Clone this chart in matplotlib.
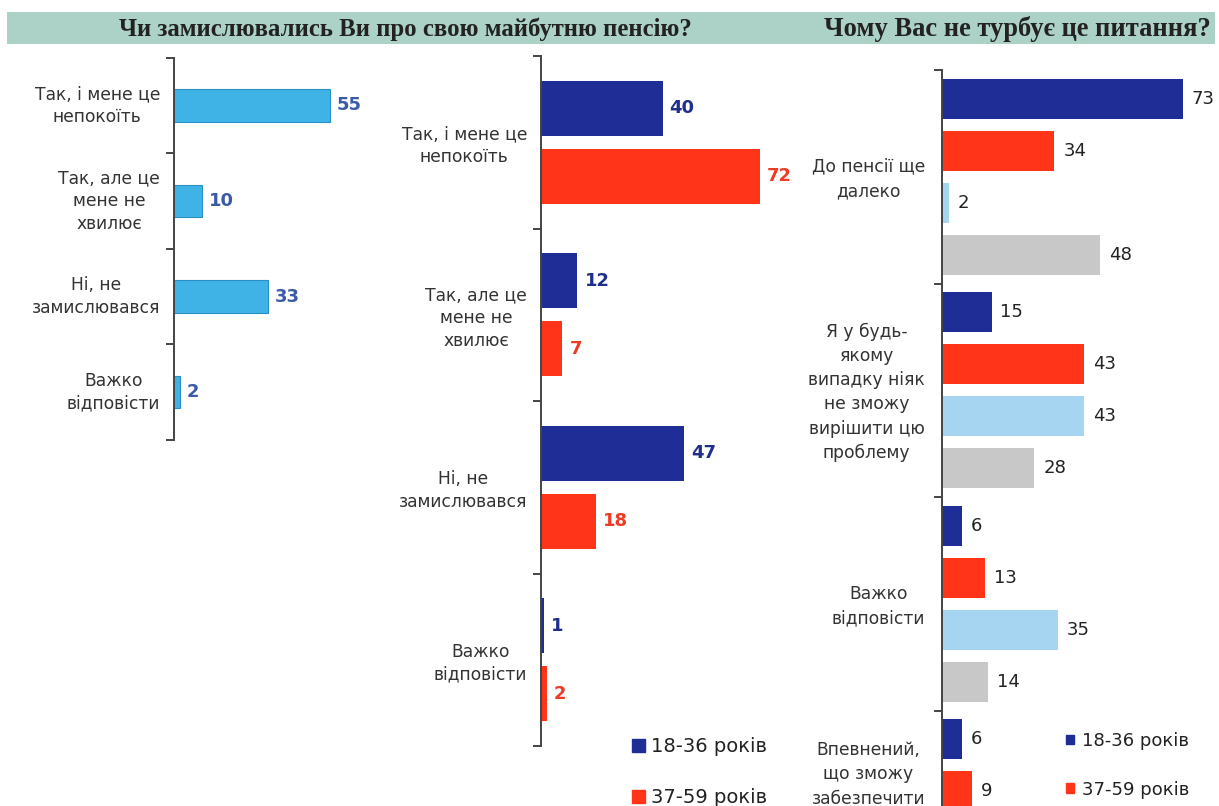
import numpy as np
import matplotlib
matplotlib.use("Agg")
import matplotlib.pyplot as plt
from matplotlib.patches import Rectangle, Patch

# ---------------- data ----------------
title_left = "Чи замислювались Ви про свою майбутню пенсію?"
title_right = "Чому Вас не турбує це питання?"

cats_left = ["Так, і мене це\nнепокоїть", "Так, але це\nмене не\nхвилює",
             "Ні, не\nзамислювався", "Важко\nвідповісти"]
vals_total = [55, 10, 33, 2]

cats_mid = ["Так, і мене це\nнепокоїть", "Так, але це\nмене не\nхвилює",
            "Ні, не\nзамислювався", "Важко\nвідповісти"]
vals_mid_young = [40, 12, 47, 1]
vals_mid_old = [72, 7, 18, 2]

cats_right = ["До пенсії ще\nдалеко",
              "Я у будь-\nякому\nвипадку ніяк\nне зможу\nвирішити цю\nпроблему",
              "Важко\nвідповісти",
              "Впевнений,\nщо зможу\nзабезпечити"]
vals_r_young = [73, 15, 6, 6]
vals_r_old = [34, 43, 13, 9]
vals_r_s3 = [2, 43, 35, np.nan]
vals_r_s4 = [48, 28, 14, np.nan]

legend_labels = ["18-36 років", "37-59 років"]

# ---------------- style ----------------
W, H = 1219, 806
fig = plt.figure(figsize=(W / 100, H / 100), dpi=100)
fig.patch.set_facecolor("white")
plt.rcParams["font.family"] = ["DejaVu Sans"]

C_LB = "#3fb3e6"
C_BLUE = "#1f2e96"
C_RED = "#ff3419"
C_LIGHT = "#a6d5f1"
C_GRAY = "#c8c8c8"
TXT = "#333333"


def ax_px(x0, ytop, w, ybot):
    return fig.add_axes([x0 / W, (H - ybot) / H, w / W, (ybot - ytop) / H])


def style_axis(ax, n, ylim):
    for s in ["top", "right", "bottom"]:
        ax.spines[s].set_visible(False)
    ax.spines["left"].set_color("#444444")
    ax.spines["left"].set_linewidth(1.4)
    ax.set_xticks([])
    ax.set_yticks(np.arange(n + 1) - 0.5)
    ax.set_yticklabels([])
    ax.tick_params(axis="y", direction="out", length=6, width=1.4, color="#444444")
    ax.set_xlim(0, 80)
    ax.set_ylim(*ylim)
    ax.patch.set_alpha(0)


def cat_labels(ax, cats, ys, dx=-14, fs=12.3, ls=1.35):
    for c, y in zip(cats, ys):
        ax.annotate(c, xy=(0, y), xytext=(dx, 0), textcoords="offset pixels",
                    ha="right", va="center", multialignment="center",
                    fontsize=fs, color=TXT, linespacing=ls,
                    annotation_clip=False)


def val_labels(ax, ys, vals, color, bold, fs=13, dx=7):
    for y, v in zip(ys, vals):
        if np.isnan(v):
            continue
        ax.annotate(f"{v:g}", xy=(v, y), xytext=(dx, 0), textcoords="offset pixels",
                    ha="left", va="center", fontsize=fs, color=color,
                    fontweight="bold" if bold else "normal",
                    annotation_clip=False)


# ---------------- header band ----------------
fig.patches.append(Rectangle((7 / W, (H - 44) / H), (1215 - 7) / W, 32 / H,
                             transform=fig.transFigure, facecolor="#acd1c6",
                             edgecolor="none", zorder=0))
fig.text(405 / W, (H - 29) / H, title_left, ha="center", va="center",
         fontsize=17.8, fontweight="bold", family="Liberation Serif", color="#222222")
fig.text(1017 / W, (H - 29) / H, title_right, ha="center", va="center",
         fontsize=19.1, fontweight="bold", family="Liberation Serif", color="#222222")

# ---------------- left panel ----------------
axL = ax_px(174, 57.5, 227, 440)
yL = np.arange(len(cats_left))
axL.barh(yL, vals_total, height=0.34, color=C_LB, edgecolor="#2a90c4", linewidth=0.8)
style_axis(axL, len(cats_left), (len(cats_left) - 0.5, -0.5))
cat_labels(axL, cats_left, yL)
val_labels(axL, yL, vals_total, "#3b5ba8", True, fs=13)

# ---------------- middle panel ----------------
axM = ax_px(541, 56, 243, 746)
yM = np.arange(len(cats_mid))
off = 0.197
axM.barh(yM - off, vals_mid_young, height=0.32, color=C_BLUE)
axM.barh(yM + off, vals_mid_old, height=0.32, color=C_RED)
style_axis(axM, len(cats_mid), (len(cats_mid) - 0.5, -0.5))
cat_labels(axM, cats_mid, yM + 0.02)
val_labels(axM, yM - off, vals_mid_young, "#1f2f8c", True, fs=13)
val_labels(axM, yM + off, vals_mid_old, "#ef3a24", True, fs=13)

legM = fig.legend(handles=[Patch(color=C_BLUE), Patch(color=C_RED)], labels=legend_labels,
                  loc="upper left", bbox_to_anchor=(632 / W, (H - 737) / H),
                  frameon=False, fontsize=14, handlelength=0.67, handleheight=0.67,
                  handletextpad=0.3, labelspacing=1.65, borderpad=0, borderaxespad=0)
for t in legM.get_texts():
    t.set_color("#222222")

# ---------------- right panel ----------------
axR = ax_px(942, 70, 264, 806)
yR = np.arange(len(cats_right))
p = 0.244
axR.barh(yR - 1.5 * p, vals_r_young, height=0.188, color=C_BLUE)
axR.barh(yR - 0.5 * p, vals_r_old, height=0.188, color=C_RED)
axR.barh(yR + 0.5 * p, vals_r_s3, height=0.188, color=C_LIGHT)
axR.barh(yR + 1.5 * p, vals_r_s4, height=0.188, color=C_GRAY)
style_axis(axR, len(cats_right), ((806 - 70) / 213.5 - 0.5, -0.5))
cat_labels(axR, cats_right[:3], yR[:3] + 0.01, dx=-17, fs=12.3, ls=1.45)
axR.annotate(cats_right[3], xy=(0, yR[3]), xytext=(-17, 43), textcoords="offset pixels",
             ha="right", va="center", multialignment="center", fontsize=12.3,
             color=TXT, linespacing=1.45, annotation_clip=False)
for offs, vals in zip([-1.5, -0.5, 0.5, 1.5], [vals_r_young, vals_r_old, vals_r_s3, vals_r_s4]):
    val_labels(axR, yR + offs * p, vals, "#222222", False, fs=13, dx=9)

legR = fig.legend(handles=[Patch(color=C_BLUE), Patch(color=C_RED)], labels=legend_labels,
                  loc="upper left", bbox_to_anchor=(1066 / W, (H - 732) / H),
                  frameon=False, fontsize=13, handlelength=0.45, handleheight=0.45,
                  handletextpad=0.45, labelspacing=1.7, borderpad=0, borderaxespad=0)
for t in legR.get_texts():
    t.set_color("#222222")

fig.savefig("out.png", dpi=100)
